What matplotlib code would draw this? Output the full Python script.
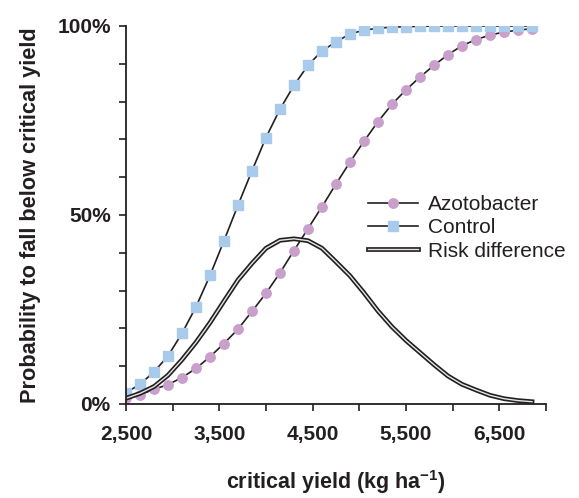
import matplotlib.pyplot as plt
import matplotlib.patheffects as pe
from matplotlib.ticker import MultipleLocator, FuncFormatter

plt.rcParams['font.family'] = ['Liberation Sans', 'DejaVu Sans']

# critical yield (kg/ha)
yields = [2500, 2650, 2800, 2950, 3100, 3250, 3400, 3550, 3700, 3850,
          4000, 4150, 4300, 4450, 4600, 4750, 4900, 5050, 5200, 5350,
          5500, 5650, 5800, 5950, 6100, 6250, 6400, 6550, 6700, 6850]

# probability to fall below critical yield (%)
azotobacter = [1.5, 2.4, 3.9, 5.1, 7.0, 9.4, 12.5, 16.0, 19.8, 24.5,
               29.3, 34.7, 40.6, 46.4, 52.2, 58.2, 64.0, 69.5, 74.7, 79.3,
               83.1, 86.5, 89.6, 92.4, 94.8, 96.4, 97.6, 98.4, 98.9, 99.3]
control = [3.0, 5.2, 8.5, 12.7, 18.7, 25.7, 34.0, 43.2, 52.6, 61.7,
           70.5, 78.0, 84.3, 89.6, 93.4, 95.8, 97.9, 98.9, 99.4, 99.7,
           99.8, 99.9, 100, 100, 100, 100, 100, 100, 100, 100]
risk_diff = [1.5, 2.8, 4.6, 7.6, 11.7, 16.3, 21.5, 27.2, 32.8, 37.2,
             41.2, 43.3, 43.7, 43.2, 41.2, 37.6, 33.9, 29.4, 24.6, 20.4,
             16.8, 13.6, 10.4, 7.4, 5.2, 3.7, 2.3, 1.4, 0.9, 0.6]

fig = plt.figure(figsize=(5.79, 4.98), dpi=100)
ax = fig.add_axes([0.2176, 0.1888, 0.7254, 0.759])

line_col = '#231f20'
ax.plot(yields, azotobacter, color=line_col, lw=1.2, marker='o', ms=6.8,
        mfc='#c9a0cb', mec='#c9a0cb', label='Azotobacter')
ax.plot(yields, control, color=line_col, lw=1.2, marker='s', ms=6.5,
        mfc='#a9cbeb', mec='#a9cbeb', label='Control')
ax.plot(yields, risk_diff, color='#e6e6e6', lw=1.0, label='Risk difference',
        path_effects=[pe.Stroke(linewidth=3.4, foreground=line_col), pe.Normal()])

ax.set_xlim(2500, 7000)
ax.set_ylim(0, 100)
ax.spines['top'].set_visible(False)
ax.spines['right'].set_visible(False)
for s in ['left', 'bottom']:
    ax.spines[s].set_linewidth(1.3)
    ax.spines[s].set_color(line_col)

ax.set_xticks([2500, 3500, 4500, 5500, 6500])
ax.set_xticks([3000, 4000, 5000, 6000, 7000], minor=True)
ax.xaxis.set_major_formatter(FuncFormatter(lambda v, p: f'{v:,.0f}'))
ax.set_yticks([0, 50, 100])
ax.yaxis.set_minor_locator(MultipleLocator(10))
ax.yaxis.set_major_formatter(FuncFormatter(lambda v, p: f'{v:.0f}%'))
ax.tick_params(which='both', direction='out', length=5, width=1.2, color=line_col)
ax.tick_params(axis='both', labelsize=15, colors=line_col)
ax.tick_params(axis='x', pad=10)
ax.tick_params(axis='y', pad=6)
for t in ax.get_xticklabels() + ax.get_yticklabels():
    t.set_fontweight('bold')

ax.set_xlabel('critical yield (kg ha$^{\\mathregular{-1}}$)', fontsize=15.5,
              fontweight='bold', color=line_col)
ax.xaxis.set_label_coords(0.5, -0.17)
ax.set_ylabel('Probability to fall below critical yield', fontsize=15.7,
              fontweight='bold', labelpad=12, color=line_col)

ax.legend(loc='center left', bbox_to_anchor=(0.557, 0.466), frameon=False,
          fontsize=15, handlelength=2.4, handletextpad=0.45, labelspacing=0.2,
          borderaxespad=0, labelcolor=line_col)

fig.savefig('out.png', dpi=100)
